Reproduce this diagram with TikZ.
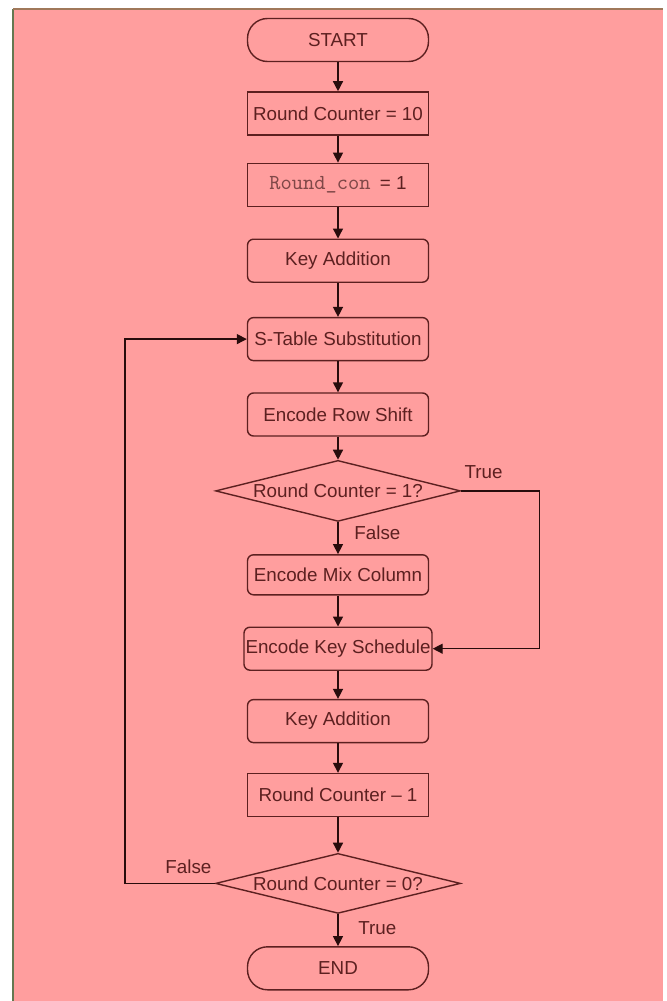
\documentclass[tikz,border=0pt]{standalone}
\usepackage{fontspec}
\setmainfont{Liberation Sans}
\usetikzlibrary{positioning,shapes.geometric,arrows.meta}
\definecolor{bgpink}{RGB}{255,158,158}
\definecolor{ink}{RGB}{92,32,32}
\definecolor{edgeink}{RGB}{40,12,12}
\definecolor{monoink}{RGB}{128,72,72}
\definecolor{frameleft}{RGB}{100,120,80}
\definecolor{frametop}{RGB}{160,120,90}

\begin{document}
\begin{tikzpicture}[x=0.5pt,y=-0.5pt,
		font=\fontsize{9.4}{11}\selectfont, text=ink,
		box/.style={draw=ink, line width=0.7pt, minimum width=90.5pt, minimum height=21.5pt, inner sep=0.5pt},
		proc/.style={box, rounded corners=3pt},
		term/.style={box, rounded corners=10pt},
		cond/.style={draw=ink, line width=0.7pt, diamond, aspect=4, minimum width=122.5pt, minimum height=30.5pt, inner sep=0pt},
		flow/.style={draw=edgeink, line width=0.7pt, -{Triangle[length=5pt,width=5pt]}},
		lbl/.style={inner sep=0pt}]
				% page and frame
				\useasboundingbox (0,0) rectangle (667,1001);
				\fill[white] (0,0) rectangle (667,1001);
				\fill[bgpink] (13,9) rectangle (663,1001);
				\draw[frameleft, line width=0.6pt] (13,9) -- (13,1001);
				\draw[frametop, line width=0.6pt] (13,9) -- (663,9);

				\node[term] (start) at (338,40) {START};
				\node[box, below=14.5pt of start] (a0) {Round Counter = 10};
				\node[box, below=13.5pt of a0] (a1) {{\fontsize{10.7}{12}\selectfont\ttfamily\color{monoink}Round\_con}\enspace= 1};
				\node[proc, below=15.75pt of a1] (a2) {Key Addition};
				\node[proc, below=17pt of a2] (a3) {S-Table Substitution};
				\node[proc, below=15.5pt of a3] (a4) {Encode Row Shift};
				\node[cond, below=11.5pt of a4] (c0) {Round Counter = 1?};
				\node[proc, minimum height=20pt, below=16pt of c0] (b0) {Encode Mix Column};
				\node[proc, minimum width=94pt, below=15.5pt of b0] (b1) {Encode Key Schedule};
				\node[proc, below=14pt of b1] (b2) {Key Addition};
				\node[box, below=14.75pt of b2] (b3) {Round Counter -- 1};
				\node[cond, minimum height=30pt, below=17.75pt of b3] (c1) {Round Counter = 0?};
				\node[term, below=16pt of c1] (end) {END};

				\draw[flow] (start) -- (a0);
				\draw[flow] (a0) -- (a1);
				\draw[flow] (a1) -- (a2);
				\draw[flow] (a2) -- (a3);
				\draw[flow] (a3) -- (a4);
				\draw[flow] (a4) -- (c0);
				\draw[flow] (c0) -- (b0);
				\draw[flow] (b0) -- (b1);
				\draw[flow] (b1) -- (b2);
				\draw[flow] (b2) -- (b3);
				\draw[flow] (b3) -- (c1);
				\draw[flow] (c1) -- (end);
				\draw[flow] (c0.east) -- ++(78,0) |- (b1.east);
				\draw[flow] (c1.west) -- ++(-90,0) |- (a3.west);

				\node[lbl, anchor=south west] at ([xshift=1.5pt,yshift=6pt]c0.east) {True};
				\node[lbl, anchor=north west] at ([xshift=8pt,yshift=-1.5pt]c0.south) {False};
				\node[lbl, anchor=south east] at ([xshift=-1.5pt,yshift=4.5pt]c1.west) {False};
				\node[lbl, anchor=north west] at ([xshift=10pt,yshift=-3.5pt]c1.south) {True};
\end{tikzpicture}
\end{document}
